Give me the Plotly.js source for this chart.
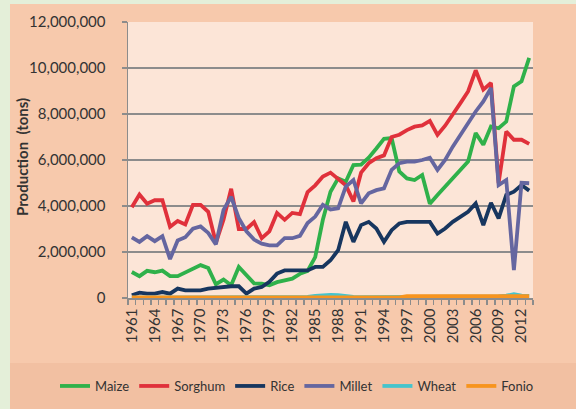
<!DOCTYPE html>
<html>
<head>
<meta charset="utf-8">
<script src="https://cdn.plot.ly/plotly-3.0.1.min.js"></script>
<style>
  html, body { margin:0; padding:0; width:576px; height:409px; overflow:hidden; background:#E4EFD9; }
  #card { position:absolute; left:10px; top:4px; width:566px; height:405px; background:#F7C9AC; }
  #band { position:absolute; left:10px; top:363px; width:566px; height:46px; background:#F2C0A2; }
  #chart { position:absolute; left:0; top:0; width:576px; height:409px; }
</style>
</head>
<body>
<div id="card"></div>
<div id="band"></div>
<div id="chart"></div>
<script>
// Years 1961-2013
const years = [];
for (let y = 1961; y <= 2013; y++) years.push(y);

const tickYears = [1961,1964,1967,1970,1973,1976,1979,1982,1985,1988,1991,1994,1997,2000,2003,2006,2009,2012];
const tickLabels = tickYears.map(String);

// Production values in million tonnes
const maize = [1.13,0.95,1.18,1.12,1.19,0.95,0.95,1.12,1.3,1.43,1.3,0.6,0.8,0.55,1.35,1.02,0.64,0.62,0.55,0.69,
  0.76,0.84,1.05,1.18,1.78,3.4,4.62,5.2,5.05,5.78,5.8,6.1,6.5,6.92,6.95,5.5,5.2,5.13,5.35,4.1,
  4.48,4.84,5.2,5.57,5.93,7.17,6.66,7.46,7.38,7.67,9.2,9.42,10.44];
const sorghum = [3.95,4.5,4.1,4.25,4.25,3.1,3.35,3.2,4.05,4.05,3.75,2.4,3.4,4.75,3.0,3.0,3.3,2.6,2.9,3.7,
  3.4,3.7,3.65,4.6,4.9,5.28,5.45,5.2,4.9,4.2,5.45,5.86,6.08,6.2,7.0,7.1,7.3,7.45,7.5,7.7,
  7.09,7.49,7.96,8.47,8.98,9.9,9.06,9.35,5.0,7.24,6.88,6.88,6.7];
const rice = [0.12,0.23,0.19,0.19,0.26,0.19,0.41,0.33,0.33,0.33,0.41,0.45,0.51,0.51,0.51,0.19,0.41,0.48,0.7,1.06,
  1.2,1.2,1.2,1.2,1.35,1.35,1.64,2.08,3.31,2.44,3.17,3.31,3.02,2.44,2.95,3.24,3.31,3.31,3.31,3.31,
  2.8,3.02,3.31,3.53,3.75,4.11,3.17,4.14,3.46,4.48,4.62,4.91,4.67];
const millet = [2.64,2.44,2.69,2.47,2.69,1.69,2.5,2.64,3.01,3.11,2.83,2.33,3.83,4.4,3.47,2.9,2.54,2.36,2.29,2.29,
  2.6,2.6,2.7,3.26,3.54,4.05,3.85,3.9,4.84,5.13,4.11,4.55,4.69,4.77,5.57,5.86,5.93,5.93,6.0,6.1,
  5.57,6.0,6.58,7.09,7.67,8.11,8.55,9.13,4.91,5.13,1.21,5.01,4.99];
const wheat = [0.02,0.02,0.02,0.02,0.02,0.02,0.02,0.02,0.02,0.02,0.03,0.03,0.03,0.03,0.03,0.03,0.03,0.03,0.03,0.03,
  0.03,0.03,0.04,0.05,0.09,0.13,0.14,0.12,0.07,0.05,0.04,0.04,0.04,0.04,0.04,0.04,0.06,0.06,0.07,0.07,
  0.07,0.07,0.07,0.07,0.07,0.07,0.07,0.07,0.07,0.1,0.17,0.1,0.09];
const fonio = [0.03,0.03,0.03,0.03,0.03,0.03,0.03,0.03,0.03,0.03,0.03,0.03,0.03,0.03,0.03,0.03,0.03,0.03,0.03,0.03,
  0.03,0.03,0.03,0.03,0.03,0.03,0.03,0.03,0.03,0.03,0.03,0.03,0.03,0.03,0.03,0.03,0.08,0.08,0.08,0.08,
  0.08,0.08,0.08,0.08,0.08,0.08,0.08,0.08,0.08,0.08,0.08,0.08,0.08];

const seriesNames = ['Maize','Sorghum','Rice','Millet','Wheat','Fonio'];
const seriesData = [maize, sorghum, rice, millet, wheat, fonio];
const seriesColors = ['#2FB14A','#E0313B','#17365F','#6566A0','#45C4CC','#F7941E'];

const traces = seriesNames.map((name, i) => ({
  type: 'scatter',
  mode: 'lines',
  name: name,
  x: years,
  y: seriesData[i].map(v => v * 1e6),
  line: { color: seriesColors[i], width: 3.8 },
  hoverinfo: 'skip'
}));

const fontFam = 'Lato, "Open Sans", sans-serif';
const gray = '#8C8C8C';

const layout = {
  width: 576, height: 409,
  margin: { l: 128, r: 43, t: 22, b: 111, autoexpand: false },
  paper_bgcolor: 'rgba(0,0,0,0)',
  plot_bgcolor: '#FCE5D7',
  font: { family: fontFam, color: '#333333' },
  showlegend: true,
  legend: {
    orientation: 'h',
    x: (55 - 128) / 405, y: (298 - 386) / 276,
    xanchor: 'left', yanchor: 'middle',
    bgcolor: 'rgba(0,0,0,0)',
    font: { family: fontFam, size: 13, color: '#333333' }
  },
  xaxis: {
    automargin: false,
    range: [1960.5, 2013.5],
    showgrid: false,
    zeroline: false,
    showline: true, linecolor: gray, linewidth: 1.5,
    tickmode: 'array', tickvals: tickYears, ticktext: tickLabels,
    tickangle: -90,
    ticks: '',
    ticklabelstandoff: 3,
    tickfont: { family: fontFam, size: 15, color: '#333333' },
    minor: { ticks: 'outside', ticklen: 5, tickwidth: 1.5, tickcolor: gray, tick0: 1960.5, dtick: 1, showgrid: false },
    fixedrange: true
  },
  yaxis: {
    automargin: false,
    range: [0, 12e6],
    tick0: 0, dtick: 2e6,
    tickformat: ',d',
    showgrid: true, gridcolor: gray, gridwidth: 1.5,
    zeroline: false,
    showline: true, linecolor: gray, linewidth: 1.5,
    ticks: 'outside', ticklen: 5, tickwidth: 1.5, tickcolor: gray,
    ticklabelstandoff: 13,
    tickfont: { family: fontFam, size: 15, color: '#333333' },
    fixedrange: true
  },
  annotations: [{
    text: '<b>Production\u00a0 (tons)</b>',
    xref: 'paper', yref: 'paper',
    x: (22 - 128) / 405, y: (298 - 157) / 276,
    xanchor: 'center', yanchor: 'middle',
    textangle: -90, showarrow: false,
    font: { family: fontFam, size: 15, color: '#333333' }
  }]
};

Plotly.newPlot('chart', traces, layout, { displayModeBar: false, staticPlot: true });
</script>
</body>
</html>
